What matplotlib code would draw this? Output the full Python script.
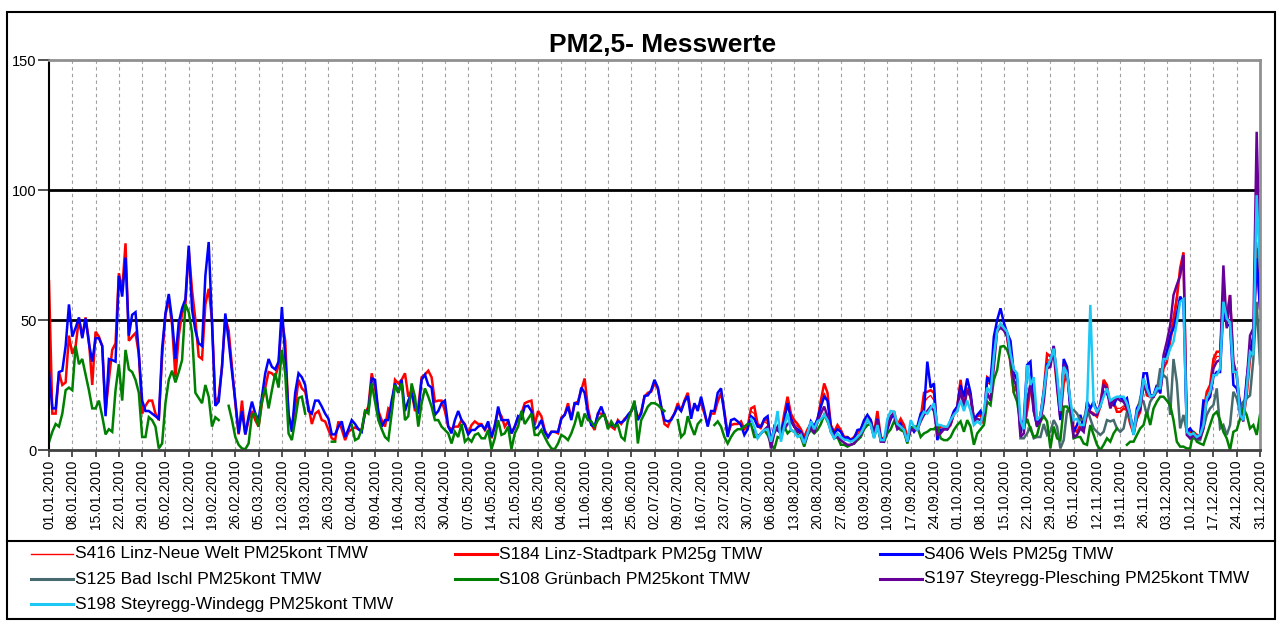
import numpy as np
import pandas as pd
import matplotlib
matplotlib.use("Agg")
import matplotlib.pyplot as plt
import matplotlib.dates as mdates
from matplotlib.lines import Line2D
from matplotlib.patches import Rectangle

nan = float("nan")

DAYS = pd.date_range("2010-01-01", "2010-12-31", freq="D")

# ── daily values (µg/m³), one row per week ───────────────────────────────────
S406_WELS = [
    30, 16, 16, 30, 30.5, 40, 56,
    43.6, 47, 51, 43, 50.6, 41, 34,
    43, 43, 40, 13, 35, 34.6, 34,
    67, 59, 74, 44, 52, 53, 37,
    19, 15, 15, 14, 13, 12, 39,
    52.5, 60, 50, 35, 49, 54.5, 58,
    78.6, 54, 46, 41, 40, 67, 80,
    49, 17, 18.6, 32, 52.5, 42, 30,
    19, 6.4, 15, 6, 13, 18.6, 14,
    11.5, 20.5, 29.5, 35, 32, 31, 34,
    55, 36, 14, 7, 22, 29.5, 28,
    25, 15, 14, 19, 19, 16.7, 14,
    12, 6, 6, 9, 11, 5, 8,
    11.5, 10, 8, 7, 15, 15, 27.5,
    27, 14, 9, 11.5, 11.5, 19, 25.6,
    22, 27, 15, 19, 22, 16.7, 14,
    27, 29, 25, 24, 13.5, 15, 18,
    19, 9, 6.4, 11.5, 15, 11.5, 9.6,
    6, 7.7, 7.7, 9, 9.6, 8, 11,
    5, 9, 16.7, 11.5, 11.5, 11.5, 6.4,
    9, 13, 12, 16.7, 17, 15, 8,
    9, 11.5, 7, 5, 7, 7, 7,
    12, 13.5, 16.7, 11.5, 18, 17.7, 24,
    22, 14, 9.6, 9, 14, 16.7, 13,
    9, 10, 9, 11, 10.5, 11.5, 13.5,
    15, 18, 11.5, 14, 20.8, 21, 23,
    27, 24, 16.7, 11.5, 11, 11.5, 14,
    16.7, 15, 18.6, 20.8, 12, 18, 15,
    20.5, 15, 9, 15, 15, 22, 23.7,
    14, 5, 11.5, 12, 11, 9.6, 5.8,
    8, 13, 12, 9, 9, 12, 13,
    2, 9, 7.7, 6.4, 11.5, 18, 12,
    9, 8, 7, 3.8, 6.4, 11, 9,
    12, 16.7, 20.5, 19, 9, 6.4, 8,
    7, 4.5, 4.9, 3.8, 4.5, 7.7, 8,
    11.5, 13.5, 11.5, 5.8, 12, 4.5, 3.8,
    8, 12, 14, 8, 10, 7, 3.8,
    9, 7, 9, 14, 15, 34, 24,
    25.6, 3.8, 7.7, 8, 8, 11.5, 15,
    16.7, 25, 20.5, 27.5, 22, 11.5, 13.5,
    15, 11.5, 28, 25.6, 43.6, 50, 54.5,
    49, 45, 42, 29.5, 27, 6.4, 11.5,
    32.7, 34, 15, 9, 13, 22, 33,
    34, 40, 25.6, 11.5, 35, 32, 15,
    7, 9.6, 13.5, 8.3, 18.6, 16, 18.6,
    14.7, 16.7, 22.4, 21.8, 18.6, 17.3, 19.9,
    20.5, 18.6, 19.9, 13.5, 7, 16, 18.6,
    29.5, 29.5, 21, 21, 25, 21.8, 34,
    37.8, 44, 46.8, 52, 59, 57, 7,
    8.3, 6.4, 5, 5.8, 19, 18.6, 20.5,
    28.2, 30, 30, 54.5, 48, 48, 25,
    23.7, 18.6, 13.5, 27.6, 37.8, 44, 73.7,
    54.5,
]

S184_LINZ_STADTPARK = [
    65, 14, 14, 30, 25, 26, 44,
    37, 40, 50.6, 43.6, 51, 42, 25,
    45.5, 43.6, 40, 15, 27, 38.5, 41,
    68, 61.5, 79.5, 42, 43.6, 45, 37,
    14, 17, 19, 19, 14, 11.5, 36,
    52, 58, 48, 28, 44, 52.5, 56,
    77, 61.5, 50, 36, 35, 56, 62,
    50, 18, 20.5, 32, 51, 46, 32,
    18, 6, 19, 6, 11.5, 15, 11.5,
    9, 18, 24, 30, 29.5, 28, 32.7,
    50, 42, 13, 9, 16.7, 27, 23.7,
    22.4, 16.7, 10, 14, 15, 11.5, 11,
    7.7, 4.5, 3.8, 11, 8, 3.8, 7,
    8, 8.7, 8, 7.7, 14, 16.7, 29.5,
    24, 15, 11.5, 9, 16, 15, 27,
    25.6, 27, 29.5, 20.5, 23, 15, 16.7,
    28, 29, 30.5, 28, 18.6, 19, 19,
    15, 9, 8, 9, 9, 11.5, 10,
    6.4, 9.6, 11, 10, 10, 7.7, 10,
    4.5, 9.6, 15, 13, 9, 11, 6.4,
    9, 12, 14, 18, 18.6, 19, 9.6,
    15, 13, 7.7, 5, 7, 7, 6.4,
    12.5, 13.5, 18, 12, 18, 18.6, 23,
    27.5, 16, 10, 7.7, 14, 14, 13.5,
    9.6, 9, 8, 11.5, 10, 12, 13,
    14.7, 17.3, 12, 14.7, 20.5, 22, 22.4,
    25.6, 23.7, 16.7, 10, 9, 12, 14,
    18, 15, 19, 22, 14, 16.7, 16.7,
    18, 14, 9.6, 14, 14, 18.6, 22,
    15, 6, 9.6, 10, 10, 11, 8,
    9, 16, 16.7, 10, 9, 11.5, 11.5,
    2.5, 7.7, 7.7, 6.4, 14, 20.5, 14,
    11.5, 10, 8, 5, 8, 10, 8,
    11.5, 19, 25.6, 22, 9.6, 7, 9.6,
    7.7, 5, 5, 4, 5, 7, 7.7,
    11, 13, 11.5, 6.4, 15, 5, 3.8,
    9, 12, 15, 9.6, 12, 9.6, 5,
    8, 7.7, 8, 12, 22, 22.4, 23,
    22, 7.7, 9, 9, 8, 9.6, 14,
    16.7, 27, 16.7, 24, 20.5, 12, 13,
    14, 10, 28, 27, 37, 47, 48,
    48, 43.6, 33, 22, 25.6, 9, 9,
    15, 23.7, 20.5, 9, 13, 23, 37,
    36, 37, 24, 12, 25.6, 29.5, 16.7,
    8.3, 7, 9.6, 7.7, 13.5, 14.7, 14,
    12.8, 16.7, 27, 25, 16.7, 18.6, 14.7,
    14.7, 16, 15.4, 10, 6.4, 12, 14.7,
    27.5, 21, 20.5, 20.5, 23.7, 22.4, 31.4,
    34, 41.7, 49, 58, 70, 76, 8.3,
    7, 7, 5.8, 5, 14.7, 22.4, 25,
    35, 37.8, 37.8, 57, 52, 59.6, 31.4,
    28.8, 17.3, 12, 21, 35, 41.7, 77.6,
    54.5,
]

S108_GRUENBACH = [
    3, 7, 10, 9, 14, 23, 24,
    23, 40, 33, 35, 29, 23, 16,
    16, 19, 13, 6, 8, 7, 23,
    33, 19, 38.5, 31, 30, 27, 22,
    5, 5, 12.6, 11.5, 9, 0.6, 2.5,
    18, 27, 30.5, 26, 30, 34.6, 56,
    53, 45, 22, 20, 18, 25, 20.5,
    9, 12.6, 11.5, nan, nan, 17, 11.5,
    5, 2, 0.6, 0.3, 2.5, 13.5, 14,
    9, 19, 24, 16, 23, 29.5, 24,
    38.5, 29.5, 6.4, 3.8, 11.5, 20, 20.5,
    14, nan, nan, nan, nan, nan, nan,
    nan, 3.2, 3.2, nan, nan, nan, nan,
    9.6, 3.8, 4.5, 8, 15, 14, 25.6,
    18.6, 11.5, 8, 5, 3.8, 14, 25,
    22, 25.6, 11.5, 13, 25.6, 20.5, 9,
    18, 23.7, 20.5, 16.7, 11.5, 11.5, 9,
    7.7, 6.4, 2.5, 7, 5, 10, 3.2,
    4.5, 3.2, 5.8, 6.4, 4.5, 4.5, 7.7,
    0.3, 4.5, 11.5, 5.8, 6.4, 9, 0.3,
    6.4, 9, 15, 10, 12, 14, 5.8,
    5.8, 7.7, 5, 2.5, 0.6, 0.3, 2.5,
    5.8, 5, 3.8, 6.4, 10, 14.7, 9,
    14, 11.5, 11, 9, 11.5, 13, 13.5,
    8, 11, 9, 9.6, 5, 3.8, 11.5,
    15, 19, 2.5, 11.5, 14, 16.7, 18,
    18, 17.3, 16, 15, nan, nan, nan,
    11.5, 5, 6.4, 13, 9, 5.8, 10,
    11.5, nan, nan, nan, 9.6, 11, 9,
    5, 2.5, 5, 7, 8, 8, 9,
    10, 10, 5, 5, 6.4, 7.7, 5.8,
    2.5, 0.3, 5, 4.5, 9, 6.4, 7.7,
    7, 5.8, 5, 1.3, 5.8, 7.7, 6.4,
    7.7, 10, 13.5, 11, 7.7, 4.5, 5,
    2, 2, 1.3, 2, 2.5, 3.8, 5,
    8, 9.6, 10, 5, 9, 3.8, 3.2,
    6.4, 8, 11, 9, 7.7, 7, 2.5,
    8, 9, 9, 5, 6.4, 7, 8,
    8, 9.6, 4.5, 3.8, 3.8, 5, 7.7,
    9.6, 11, 7, 11.5, 9, 2, 6.4,
    8, 9.6, 18.6, 17.3, 27, 30.8, 39.7,
    40, 38.5, 34.6, 22, 18.6, 10, 9,
    12, 8, 5, 5.8, 11, 13, 11,
    0.6, 9, 4.5, 3.8, 16.7, 16.7, 14,
    4.5, 5, 5, 2.5, 2, 9.6, 5.8,
    2, 0, 2, 4.5, 3.2, 6.4, 8.3,
    nan, nan, 2, 3.2, 3.2, 5.8, 8.3,
    9.6, 14.7, 9.6, 16, 18.6, 20.5, 20.5,
    19, 17.3, 11.5, 3.2, 1.3, 1.3, 0.6,
    0.6, 7, 3.2, 2.5, 2, 5.8, 9.6,
    13.5, 14.7, 11.5, 7, 4.5, 0, 7,
    7.7, 12, 16, 13.5, 8.3, 9.6, 5.8,
    13.5,
]

# later-starting stations: values from the first day they appear
S416_START = 211
S416_LINZ_NEUE_WELT = [
    15, 14, 9, 8, 11, 10,
    3, 7, 8, 6, 12, 18, 13,
    10, 9, 8, 4, 7, 10, 8,
    11, 17, 22, 19, 9, 6, 8,
    7, 5, 4, 4, 5, 6, 7,
    10, 12, 11, 6, 13, 5, 4,
    9, 12, 14, 9, 11, 9, 4,
    8, 8, 8, 12, 18, 20, 21,
    19, 7, 8, 8, 8, 10, 14,
    16, 25, 17, 23, 20, 12, 13,
    13, 11, 26, 25, 35, 45, 47,
    47, 44, 35, 24, 25, 8, 9,
    17, 24, 19, 9, 12, 21, 35,
    34, 38, 25, 12, 28, 30, 17,
    7, 7, 9, 8, 14, 15, 14,
    13, 17, 26, 24, 17, 18, 16,
    16, 17, 16, 11, 6, 13, 15,
    26, 22, 20, 21, 24, 23, 33,
    37, 44, 52, 60, 70, 76, 7,
    6, 6, 5, 5, 12, 21, 24,
    33, 36, 36, 60, 50, 57, 32,
    29, 16, 12, 22, 36, 43, 80,
    56,
]

S198_START = 211
S198_WINDEGG = [
    12, 9, 4.5, 6.4, 7.7, 8,
    3.2, 7.7, 15, 3.2, 9, 14, 7.7,
    7, 5, 5.8, 2.5, 6.4, 11, 8,
    11, 11.8, 13.5, 11.5, 7, 4.5, 6.4,
    5, 4, 3.8, 3.2, 3.8, 5, 6.4,
    9, 11.8, 9.6, 4.5, 9.6, 3.8, 3.8,
    12, 15, 14.7, 10, 9, 7.7, 3.2,
    11.5, 9, 7.7, 12, 14.7, 14, 16,
    18, 9.6, 9.6, 9, 9, 11.5, 13.5,
    15, 19, 15, 19, 15, 9.6, 11,
    10, 15, 24, 22, 36, 46, 48.7,
    47, 45.5, 37, 31, 29.5, 11.5, 8,
    32.7, 25, 28, 11.5, 13, 22, 32,
    34.6, 39, 29.5, 15, 32, 29.5, 19,
    11.5, 12, 9.6, 9.6, 16, 55.8, 17.3,
    14.7, 16.7, 20.5, 23.7, 19, 19.9, 20.5,
    20.5, 20.5, 18, 13.5, 5.8, 14.7, 17.3,
    27.5, 23.7, 20.5, 21, 23.7, 23.7, 35,
    35, 39, 41.7, 49, 57, 58, 7,
    5.8, 6.4, 5, 5.8, 9.6, 19.9, 22.4,
    28.8, 28.8, 31.4, 57, 50.6, 49, 30,
    30, 13.5, 11.5, 23.7, 37.8, 36.5, 98,
    70,
]

S197_START = 212
S197_PLESCHING = [
    7.7, 5, 6.4, 7.7, 9,
    0.6, 6.4, 9, 6.4, 8, 10, 11,
    9, 7, 6.4, 2.5, 5.8, 9, 6.4,
    11, 14, 16.7, 13, 7, 5, 5,
    3.8, 2.8, 2, 2, 2.5, 4.5, 5.8,
    9, 11.5, 10, 5, 11.5, 3.2, 3.2,
    9, 13, 14, 8, 9, 7.7, 3.2,
    8, 7.7, 7.7, 11, 13.5, 15, 16.7,
    15, 5.8, 6.4, 8, 8, 10, 14,
    15, 23, 16.7, 23, 20.5, 11, 12,
    11.5, 13.5, 22, 19, 32, 46, 47,
    46, 43.6, 36, 27, 24, 5, 6.4,
    19, 25.6, 15, 9.6, 11, 18.6, 31.4,
    32, 40, 27, 14, 33, 30.8, 18,
    5, 5.8, 8.3, 7, 16, 14.7, 13.5,
    13.5, 18, 25, 23.7, 16, 19, 19.9,
    19, 18.6, 16, 12.8, 5.8, 13.5, 15.4,
    25, 22.4, 20.5, 20.5, 23.7, 23.7, 36.5,
    41.7, 48, 59.6, 63.5, 67, 75, 5.8,
    4.5, 5.8, 4.5, 4.5, 8.3, 19.9, 21.8,
    31.4, 34, 34.6, 71, 46.8, 59.6, 34,
    28.8, 13.5, 11, 26, 44, 46.8, 122.4,
    70,
]

S125_START = 292
S125_BAD_ISCHL = [
    4.5, 4.5,
    6.4, 9, 4.5, 5, 5, 10, 5.8,
    7, 11.5, 9, 0.6, 3.8, 15, 15,
    15.4, 14, 11.5, 12, 16, 12, 8.3,
    7, 5.8, 7, 11.5, 11, 11.5, 8.3,
    7, 8.3, 14.7, 11.5, 8.3, 13.5, 19.9,
    18.6, 13.5, 18.6, 20.5, 22.4, 31.4, 28.8,
    27.6, 13.5, 35, 26, 8.3, 13.5, 7,
    4.5, 4.5, 3.8, 3.8, 8.3, 13.5, 16,
    17.3, 23.7, 8.3, 9.6, 5.8, 9.6, 22.4,
    19.9, 14.7, 18.6, 19.9, 21, 35, 57,
    33,
]

SERIES = [
    ("S416 Linz-Neue Welt PM25kont TMW", S416_START, S416_LINZ_NEUE_WELT, "#ff0000", 0.9),
    ("S184 Linz-Stadtpark PM25g TMW", 0, S184_LINZ_STADTPARK, "#ff0000", 1.8),
    ("S406 Wels PM25g TMW", 0, S406_WELS, "#0000ff", 1.8),
    ("S125 Bad Ischl PM25kont TMW", S125_START, S125_BAD_ISCHL, "#466a6e", 1.8),
    ("S108 Grünbach PM25kont TMW", 0, S108_GRUENBACH, "#008000", 1.8),
    ("S197 Steyregg-Plesching PM25kont TMW", S197_START, S197_PLESCHING, "#660099", 1.8),
    ("S198 Steyregg-Windegg PM25kont TMW", S198_START, S198_WINDEGG, "#1ec8f5", 1.8),
]

W, H = 1277, 621


def fx(x):
    return x / W


def fy(y):
    return 1 - y / H


def full_year(start, vals):
    s = pd.Series([nan] * start + list(vals), dtype=float)
    assert len(s) == len(DAYS), (start, len(vals))
    s.index = DAYS
    return s


def main():
    plt.rcParams["font.family"] = ["Liberation Sans", "DejaVu Sans"]

    fig = plt.figure(figsize=(W / 100, H / 100), dpi=100)
    ax = fig.add_axes([fx(49), fy(450), fx(1260) - fx(49), fy(60) - fy(450)])

    for name, start, vals, color, lw in SERIES:
        s = full_year(start, vals)
        ax.plot(s.index, s.values, color=color, lw=lw, solid_joinstyle="miter")

    ax.set_xlim(DAYS[0], DAYS[-1])
    ax.set_ylim(0, 150)
    ax.set_yticks([0, 50, 100, 150])

    weeks = DAYS[::7]
    ax.set_xticks(weeks)
    ax.xaxis.set_major_formatter(mdates.DateFormatter("%d.%m.%Y"))
    ax.tick_params(axis="x", rotation=90, labelsize=10, length=5, width=1.2,
                   color="#333333", pad=2)
    ax.tick_params(axis="y", labelsize=10.5, length=8, width=1.2, color="#333333", pad=1)

    # weekly dashed verticals + black reference lines
    for d in weeks[1:]:
        ax.axvline(d, color="#a0a0a0", lw=0.8, ls=(0, (3, 3)), zorder=0)
    for yv in (50, 100):
        ax.axhline(yv, color="black", lw=2, zorder=0.5)

    ax.spines["left"].set_color("black")
    ax.spines["left"].set_linewidth(1.5)
    ax.spines["bottom"].set_color("#404040")
    ax.spines["bottom"].set_linewidth(2)
    for side in ("top", "right"):
        ax.spines[side].set_color("#909090")
        ax.spines[side].set_linewidth(2)

    fig.text(fx(663), fy(45), "PM2,5- Messwerte", ha="center", va="center",
             fontsize=19, fontweight="bold")

    # outer frame and legend separator
    fig.patches.append(Rectangle((fx(7), fy(619)), fx(1275) - fx(7), fy(12) - fy(619),
                                 transform=fig.transFigure, fill=False,
                                 edgecolor="black", lw=1.5))
    fig.add_artist(Line2D([fx(7), fx(1275)], [fy(541), fy(541)],
                          transform=fig.transFigure, color="black", lw=1.5))

    # legend, three columns
    col_x = [31, 455, 880]
    row_y = [554, 579, 604]
    for i, (name, start, vals, color, lw) in enumerate(SERIES):
        x0 = col_x[i % 3]
        y0 = row_y[i // 3]
        fig.add_artist(Line2D([fx(x0), fx(x0 + 42)], [fy(y0), fy(y0)],
                              transform=fig.transFigure, color=color,
                              lw=1.0 if lw < 1 else 2.2))
        fig.text(fx(x0 + 44), fy(y0), name, ha="left", va="center", fontsize=12.5)

    fig.savefig("out.png", dpi=100)


if __name__ == "__main__":
    main()
